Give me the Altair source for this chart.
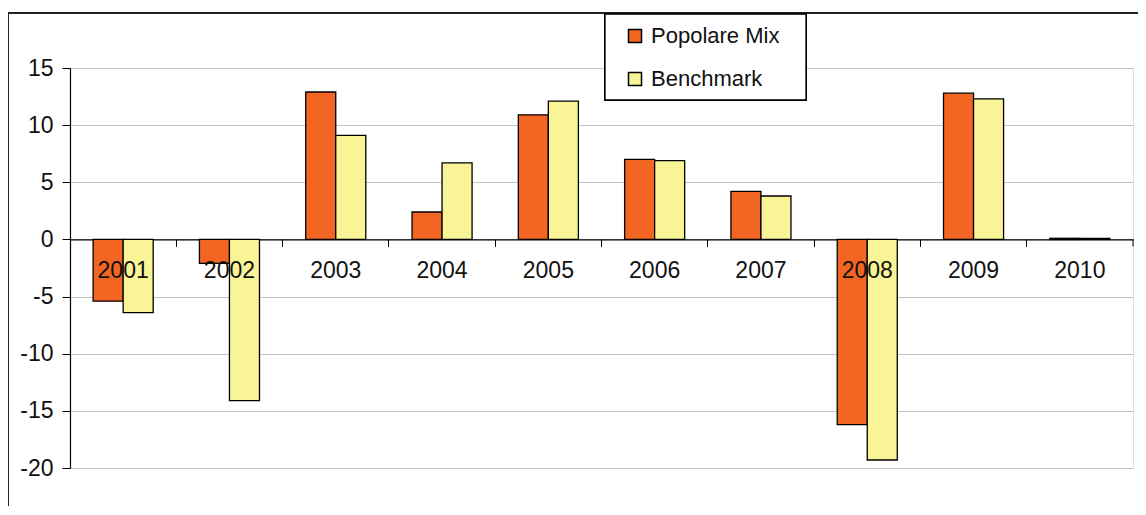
import altair as alt
import pandas as pd

years = ["2001", "2002", "2003", "2004", "2005", "2006", "2007", "2008", "2009", "2010"]
popolare = [-5.4, -2.1, 12.9, 2.4, 10.9, 7.0, 4.2, -16.2, 12.8, 0.1]
benchmark = [-6.4, -14.1, 9.1, 6.7, 12.1, 6.9, 3.8, -19.3, 12.3, 0.1]
series = ["Popolare Mix", "Benchmark"]
colors = ["#F26522", "#F9F597"]
y_ticks = [-20, -15, -10, -5, 0, 5, 10, 15]

rows = []
for i, yr in enumerate(years):
    rows.append({"year": yr, "series": series[0], "value": popolare[i]})
    rows.append({"year": yr, "series": series[1], "value": benchmark[i]})
df = pd.DataFrame(rows)
lab = pd.DataFrame({"year": years})

W, H = 1063, 400
FONT = "Liberation Sans"

xscale = alt.Scale(domain=years, paddingInner=0, paddingOuter=0)
yscale = alt.Scale(domain=[-20, 15], nice=False)

bars = alt.Chart(df).mark_bar(stroke="black", strokeWidth=1.3).encode(
    x=alt.X("year:N", scale=xscale, sort=years,
            axis=alt.Axis(title=None, labels=False, domain=True, domainColor="black",
                          domainWidth=1.3, ticks=True, tickColor="black", tickSize=7,
                          tickWidth=1, bandPosition=0, grid=False,
                          offset=-(H - H * 15 / 35))),
    xOffset=alt.XOffset("series:N", scale=alt.Scale(domain=series, paddingOuter=0.77, paddingInner=0)),
    y=alt.Y("value:Q", scale=yscale,
            axis=alt.Axis(title=None, values=y_ticks, domainColor="black", domainWidth=1.2,
                          tickColor="black", tickSize=8, labelPadding=9,
                          labelExpr="'' + datum.value",
                          labelFontSize=23, labelFont=FONT, labelColor="#111",
                          gridColor="#c4c4c4", gridWidth=1.2)),
    color=alt.Color("series:N", scale=alt.Scale(domain=series, range=colors),
                    legend=alt.Legend(title=None, orient="none", legendX=554, legendY=-43,
                                      padding=0, symbolType="square", symbolSize=169,
                                      symbolStrokeColor="black", symbolStrokeWidth=1.5,
                                      labelFontSize=22, labelFont=FONT, labelColor="#111",
                                      labelOffset=5, rowPadding=21)),
)

labels = alt.Chart(lab).mark_text(fontSize=23, font=FONT, color="#111", dy=32).encode(
    x=alt.X("year:N", scale=xscale, sort=years),
    y=alt.YDatum(0),
    text="year:N",
)

end_tick = alt.Chart(lab.head(1)).mark_rule(color="black", strokeWidth=1).encode(
    x=alt.value(W), y=alt.YDatum(0), y2=alt.YDatum(-0.62),
)

legend_box = alt.Chart(lab).mark_rect(fill="white", stroke="black", strokeWidth=1.3).encode(
    x=alt.value(535), x2=alt.value(736), y=alt.value(-54), y2=alt.value(32)
)

frame = alt.Chart(lab).mark_rect(fill=None, stroke="#222", strokeWidth=1.5, clip=False).encode(
    x=alt.value(-62), x2=alt.value(1200), y=alt.value(-55), y2=alt.value(600)
)

chart = alt.layer(frame, bars, end_tick, labels, legend_box).properties(
    width=W, height=H,
    padding={"left": 62, "top": 60, "right": 5, "bottom": 38},
    autosize=alt.AutoSizeParams(type="none"),
).configure_view(stroke="#9a9a9a", strokeWidth=1.5).configure(background="white")

chart.save("out.html", embed_options={"renderer": "svg", "actions": False})
